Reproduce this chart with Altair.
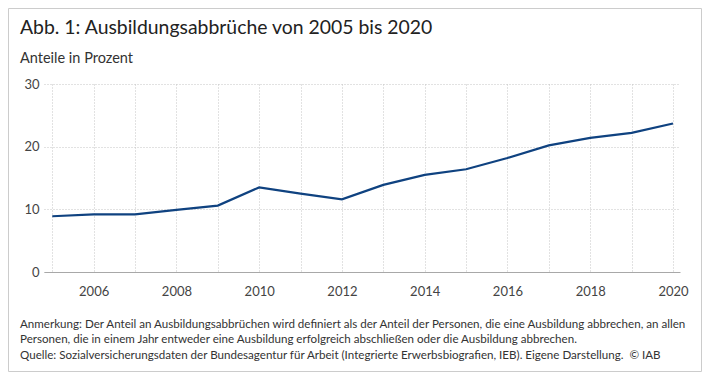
import altair as alt
import pandas as pd

years = list(range(2005, 2021))
shares = [8.9, 9.2, 9.2, 9.9, 10.6, 13.5, 12.5, 11.6, 13.9, 15.5, 16.4, 18.2, 20.2, 21.4, 22.2, 23.7]

title_text = "Abb. 1: Ausbildungsabbrüche von 2005 bis 2020"
subtitle_text = "Anteile in Prozent"
note_lines = [
    "Anmerkung: Der Anteil an Ausbildungsabbrüchen wird definiert als der Anteil der Personen, die eine Ausbildung abbrechen, an allen",
    "Personen, die in einem Jahr entweder eine Ausbildung erfolgreich abschließen oder die Ausbildung abbrechen.",
    "Quelle: Sozialversicherungsdaten der Bundesagentur für Arbeit (Integrierte Erwerbsbiografien, IEB). Eigene Darstellung.\u00a0\u00a0© IAB",
]
y_ticks = [0, 10, 20, 30]

FONT = "Lato"
W, H = 636, 188
PAD = {"left": 36, "top": 76, "right": 22, "bottom": 100}

df = pd.DataFrame({"Jahr": years, "Anteil": shares})

line = alt.Chart(df).mark_line(color="#0f4280", strokeWidth=2.2).encode(
    x=alt.X(
        "Jahr:Q",
        scale=alt.Scale(domain=[2004.8, 2020.17], nice=False, zero=False),
        axis=alt.Axis(
            values=years,
            format="d",
            labelExpr="datum.value % 2 == 0 ? datum.label : ''",
            title=None,
            grid=True,
            gridDash=[1, 2],
            gridColor="#c4c4c4",
            domain=True,
            domainColor="#a8a8a8",
            ticks=False,
            labelPadding=13,
            labelFontSize=13,
            labelColor="#444444",
            labelFont=FONT,
        ),
    ),
    y=alt.Y(
        "Anteil:Q",
        scale=alt.Scale(domain=[0, 30], nice=False),
        axis=alt.Axis(
            values=y_ticks,
            title=None,
            grid=True,
            gridDash=[1, 2],
            gridColor="#c4c4c4",
            domain=False,
            ticks=False,
            labelPadding=5,
            labelFontSize=13,
            labelColor="#444444",
            labelFont=FONT,
        ),
    ),
)


def text_layer(txt, x, y, size, color):
    return alt.Chart(pd.DataFrame({"t": [txt]})).mark_text(
        align="left", baseline="alphabetic", font=FONT, fontSize=size, color=color
    ).encode(text="t:N", x=alt.value(x), y=alt.value(y))


title = text_layer(title_text, -24, -50, 19.4, "#222222")
subtitle = text_layer(subtitle_text, -24, -21.5, 14.5, "#333333")
n1 = text_layer(note_lines[0], -24, 244, 11.6, "#333333")
n2 = text_layer(note_lines[1], -24, 258.5, 11.6, "#333333")
n3 = text_layer(note_lines[2], -24, 275, 11.6, "#333333")

border = alt.Chart(pd.DataFrame({"a": [0]})).mark_rect(
    filled=False, stroke="#cccccc", strokeWidth=1
).encode(
    x=alt.value(-35.5),
    x2=alt.value(W + PAD["right"] - 0.5),
    y=alt.value(-75.5),
    y2=alt.value(H + PAD["bottom"] - 0.5),
)

chart = alt.layer(border, line, title, subtitle, n1, n2, n3).properties(
    width=W,
    height=H,
    padding=PAD,
    autosize="none",
    background="white",
).configure_view(stroke=None)

chart.save("out.html", embed_options={"renderer": "svg", "actions": False})
